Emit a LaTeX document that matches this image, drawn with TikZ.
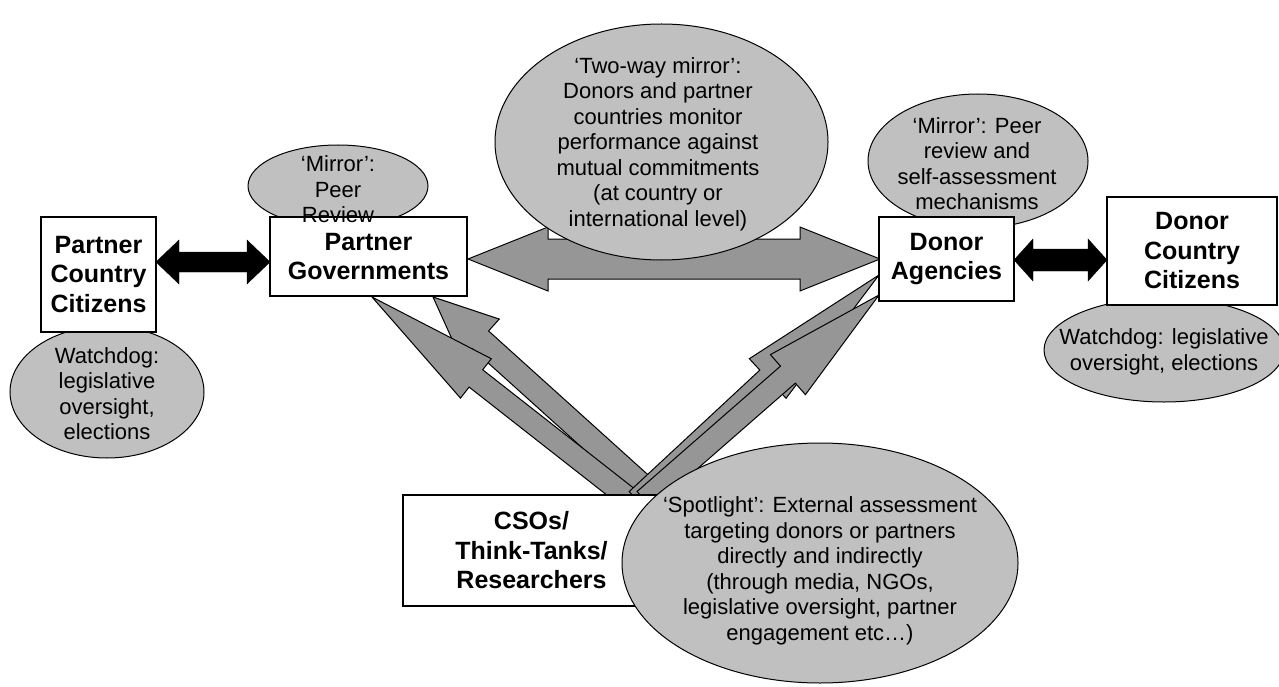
\documentclass[tikz,border=0pt]{standalone}
\usepackage{fontspec}
\setmainfont{Liberation Sans}
\usetikzlibrary{calc}
\definecolor{bubblegray}{RGB}{192, 192, 192}
\definecolor{arrowgray}{RGB}{150, 150, 150}
% #2 start, #3 tip, #4 shaft half width, #5 head half width, #6 head length
\newcommand{\fatarrow}[6][]{%
  \draw[#1] ($(#2)!#4!90:(#3)$)
    -- ($(#3)!#6!(#2)!#4!90:(#3)$) -- ($(#3)!#6!(#2)!#5!90:(#3)$)
    -- (#3)
    -- ($(#3)!#6!(#2)!#5!-90:(#3)$) -- ($(#3)!#6!(#2)!#4!-90:(#3)$)
    -- ($(#2)!#4!-90:(#3)$) -- cycle;}
\newcommand{\fatdouble}[6][]{%
  \draw[#1] (#2)
    -- ($(#2)!#6!(#3)!#5!90:(#3)$) -- ($(#2)!#6!(#3)!#4!90:(#3)$)
    -- ($(#3)!#6!(#2)!#4!90:(#3)$) -- ($(#3)!#6!(#2)!#5!90:(#3)$)
    -- (#3)
    -- ($(#3)!#6!(#2)!#5!-90:(#3)$) -- ($(#3)!#6!(#2)!#4!-90:(#3)$)
    -- ($(#2)!#6!(#3)!#4!-90:(#3)$) -- ($(#2)!#6!(#3)!#5!-90:(#3)$)
    -- cycle;}

\begin{document}
\begin{tikzpicture}[x=1pt, y=-1pt,
  box/.style={draw, line width=2.5pt, fill=white, align=center, inner sep=0pt,
    font=\fontsize{25}{29.5}\selectfont\bfseries},
  bubble/.style={draw, line width=1pt, fill=bubblegray},
  bubbletext/.style={align=center, font=\fontsize{22}{25.5}\selectfont},
  grayarrow/.style={draw, line width=1pt, fill=arrowgray, line join=miter},
  blackarrow/.style={fill=black}]

  \useasboundingbox (0, 0) rectangle (1279, 687);

  \coordinate (gl) at (468, 259);
  \coordinate (gr) at (880, 259);
  \fatdouble[grayarrow]{gl}{gr}{20pt}{32pt}{80pt}

  \draw[bubble] (661.5, 142) ellipse (166.5pt and 118pt);

  \coordinate (csoa) at (631, 500);
  \coordinate (csob) at (658, 500);
  \coordinate (csoc) at (637, 500);
  \coordinate (csod) at (644.5, 500);
  \coordinate (pga) at (372, 297);
  \coordinate (pgb) at (433, 297);
  \coordinate (dac) at (879, 275);
  \coordinate (dad) at (879, 295);
  \fatarrow[grayarrow]{csob}{pgb}{12pt}{28pt}{64pt}
  \fatarrow[grayarrow]{csoa}{pga}{11pt}{25pt}{132pt}
  \fatarrow[grayarrow]{csoc}{dac}{11.5pt}{27pt}{152pt}
  \fatarrow[grayarrow]{csod}{dad}{11.3pt}{26.6pt}{121pt}

  \draw[bubble] (338, 186) ellipse (90pt and 41pt);
  \draw[bubble] (978, 161) ellipse (110pt and 67pt);
  \draw[bubble] (107, 392) ellipse (97pt and 66pt);
  \draw[bubble] (1164, 350) ellipse (120pt and 52pt);

  \node[box, minimum width=115pt, minimum height=115pt] (pcc) at (98.5, 274.5)
    {Partner\\Country\\Citizens};
  \node[box, minimum width=197pt, minimum height=79pt] (pg) at (368.5, 256.5)
    {Partner\\Governments};
  \node[box, minimum width=135pt, minimum height=84pt] (da) at (946.5, 259)
    {Donor\\Agencies};
  \node[box, minimum width=170pt, minimum height=108pt] (dcc) at (1192, 251)
    {Donor\\Country\\Citizens};
  \node[box, minimum width=257pt, minimum height=111pt] (cso) at (531.5, 550.5)
    {CSOs/\\Think-Tanks/\\Researchers};

  \coordinate (bl1) at (156, 262);
  \coordinate (bl2) at (270, 262);
  \coordinate (br1) at (1014, 260);
  \coordinate (br2) at (1107, 260);
  \fatdouble[blackarrow]{bl1}{bl2}{10pt}{22pt}{23pt}
  \fatdouble[blackarrow]{br1}{br2}{11pt}{21pt}{19pt}

  \draw[bubble] (820, 563) ellipse (198pt and 120pt);

  \node[bubbletext] (mirrorpg) at (338, 189.5) {‘Mirror’:\\Peer\\Review};
  \node[bubbletext] (twoway) at (658, 144) {‘Two-way mirror’:\\Donors and partner\\countries monitor\\performance against\\mutual commitments\\(at country or\\international level)};
  \node[bubbletext] (mirrorda) at (977, 163.5) {‘Mirror’: Peer\\review and\\self-assessment\\mechanisms};
  \node[bubbletext] (watchpcc) at (107, 393.5) {Watchdog:\\legislative\\oversight,\\elections};
  \node[bubbletext] (watchdcc) at (1164, 352) {Watchdog: legislative\\oversight, elections};
  \node[bubbletext] (spotlight) at (820, 571) {‘Spotlight’: External assessment\\targeting donors or partners\\directly and indirectly\\(through media, NGOs,\\legislative oversight, partner\\engagement etc…)};

\end{tikzpicture}
\end{document}
